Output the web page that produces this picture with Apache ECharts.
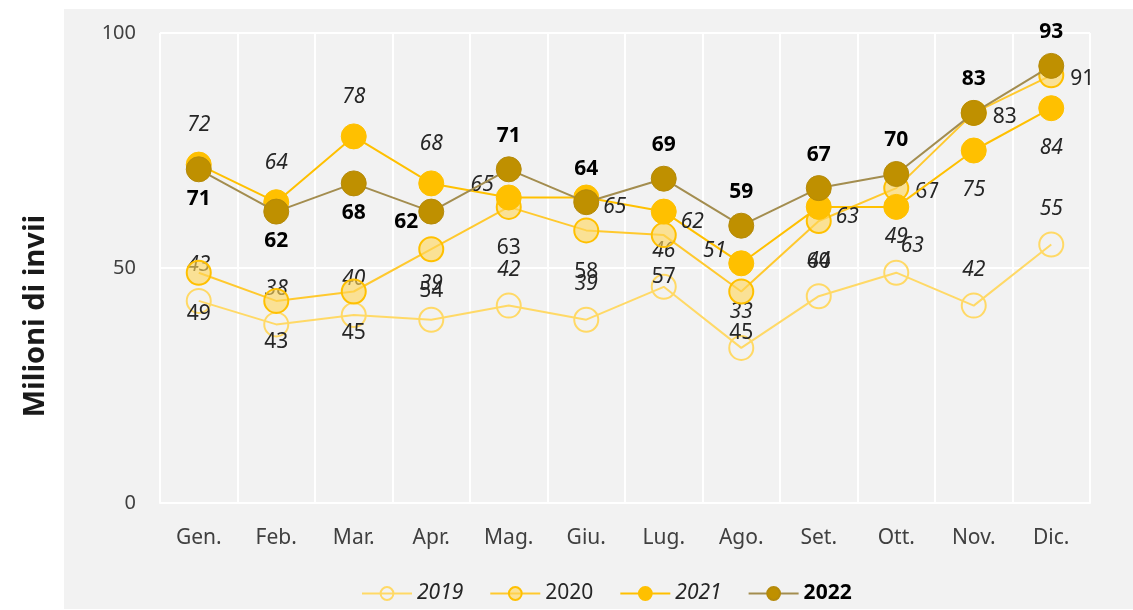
<!DOCTYPE html>
<html>
<head>
<meta charset="utf-8">
<script src="https://cdn.jsdelivr.net/npm/echarts@6/dist/echarts.min.js"></script>
<style>html,body{margin:0;padding:0;background:#fff;}#c{width:1133px;height:610px;}</style>
</head>
<body>
<div id="c"></div>
<script>
const categories = ['Gen.', 'Feb.', 'Mar.', 'Apr.', 'Mag.', 'Giu.', 'Lug.', 'Ago.', 'Set.', 'Ott.', 'Nov.', 'Dic.'];
const v2019 = [43, 38, 40, 39, 42, 39, 46, 33, 44, 49, 42, 55];
const v2020 = [49, 43, 45, 54, 63, 58, 57, 45, 60, 67, 83, 91];
const v2021 = [72, 64, 78, 68, 65, 65, 62, 51, 63, 63, 75, 84];
const v2022 = [71, 62, 68, 62, 71, 64, 69, 59, 67, 70, 83, 93];
const seriesNames = ['2019', '2020', '2021', '2022'];
const yTicks = [0, 50, 100];
const yTitle = 'Milioni di invii';

const FONT = 'Noto Sans';
const txt = '#262626';
const LBL = 21;

// label placement helpers (style only)
const pos2020 = i => (i >= 9 ? { position: 'right', distance: 6, offset: [0, 4] } : { position: 'bottom', distance: 18 });
const pos2021 = i => {
  if (i <= 3) return { position: 'top', distance: 16 };
  if (i === 4 || i === 7) return { position: 'left', distance: 2, offset: [0, -12] };
  if (i === 5 || i === 6 || i === 8) return { position: 'right', distance: 4, offset: [0, 10] };
  if (i === 9) return { position: 'bottom', distance: 16, offset: [16, 0] };
  return { position: 'bottom', distance: 16 };
};
const pos2022 = i => {
  if (i === 3) return { position: 'left', distance: 0, offset: [0, 10] };
  return i <= 2 ? { position: 'bottom', distance: 6 } : { position: 'top', distance: 10 };
};

const chart = echarts.init(document.getElementById('c'));
chart.setOption({
  animation: false,
  backgroundColor: '#ffffff',
  graphic: [
    { type: 'rect', shape: { x: 64, y: 9, width: 1069, height: 600 }, style: { fill: '#f2f2f2' }, z: -10 },
    {
      type: 'text', x: 36, y: 316, rotation: Math.PI / 2,
      style: { text: yTitle, font: 'bold 29px "Noto Sans"', fill: '#1a1a1a', textAlign: 'center', textVerticalAlign: 'middle' }
    }
  ],
  grid: { left: 160, right: 43, top: 33, bottom: 107 },
  legend: {
    bottom: 1,
    left: 356,
    itemWidth: 50,
    itemHeight: 16,
    itemGap: 26,
    textStyle: { fontFamily: FONT, fontSize: 21, color: txt },
    data: [
      { name: '2019', textStyle: { fontStyle: 'italic' } },
      { name: '2020' },
      { name: '2021', textStyle: { fontStyle: 'italic' } },
      { name: '2022', textStyle: { fontWeight: 'bold', color: '#000' } }
    ]
  },
  xAxis: {
    type: 'category',
    data: categories,
    boundaryGap: true,
    axisLine: { show: true, lineStyle: { color: '#ffffff', width: 2 } },
    axisTick: { show: false },
    splitLine: { show: true, interval: 0, lineStyle: { color: '#ffffff', width: 2 } },
    axisLabel: { interval: 0, margin: 25, fontFamily: FONT, fontSize: 21, color: '#404040' }
  },
  yAxis: {
    type: 'value',
    min: yTicks[0],
    max: yTicks[yTicks.length - 1],
    interval: 50,
    axisLine: { show: false },
    axisTick: { show: false },
    splitLine: { show: true, lineStyle: { color: '#ffffff', width: 2 } },
    axisLabel: { margin: 24, fontFamily: FONT, fontSize: 20, color: '#404040' }
  },
  series: [
    {
      name: seriesNames[0], type: 'line', data: v2019, z: 2,
      symbol: 'circle', symbolSize: 24,
      lineStyle: { color: '#FFD966', width: 2 },
      itemStyle: { color: 'rgba(242,242,242,0)', borderColor: '#FFD966', borderWidth: 2 },
      label: { show: true, position: 'top', distance: 12, fontFamily: FONT, fontSize: LBL, fontStyle: 'italic', color: txt }
    },
    {
      name: seriesNames[1], type: 'line', z: 3,
      data: v2020.map((v, i) => ({ value: v, label: pos2020(i) })),
      symbol: 'circle', symbolSize: 24,
      lineStyle: { color: '#FFC92E', width: 2 },
      itemStyle: { color: 'rgba(255,214,92,0.62)', borderColor: '#FFC000', borderWidth: 2 },
      label: { show: true, fontFamily: FONT, fontSize: LBL, color: txt }
    },
    {
      name: seriesNames[2], type: 'line', z: 4,
      data: v2021.map((v, i) => ({ value: v, label: pos2021(i) })),
      symbol: 'circle', symbolSize: 25,
      lineStyle: { color: '#FFC000', width: 2 },
      itemStyle: { color: '#FFC000', borderColor: '#FFC000', borderWidth: 1 },
      label: { show: true, fontFamily: FONT, fontSize: LBL, fontStyle: 'italic', color: txt }
    },
    {
      name: seriesNames[3], type: 'line', z: 5,
      data: v2022.map((v, i) => ({ value: v, label: pos2022(i) })),
      symbol: 'circle', symbolSize: 25,
      lineStyle: { color: '#A38D4F', width: 2 },
      itemStyle: { color: '#BF9000', borderColor: '#B58A0A', borderWidth: 1 },
      label: { show: true, fontFamily: FONT, fontSize: LBL, fontWeight: 'bold', color: '#000' }
    }
  ]
});
</script>
</body>
</html>
